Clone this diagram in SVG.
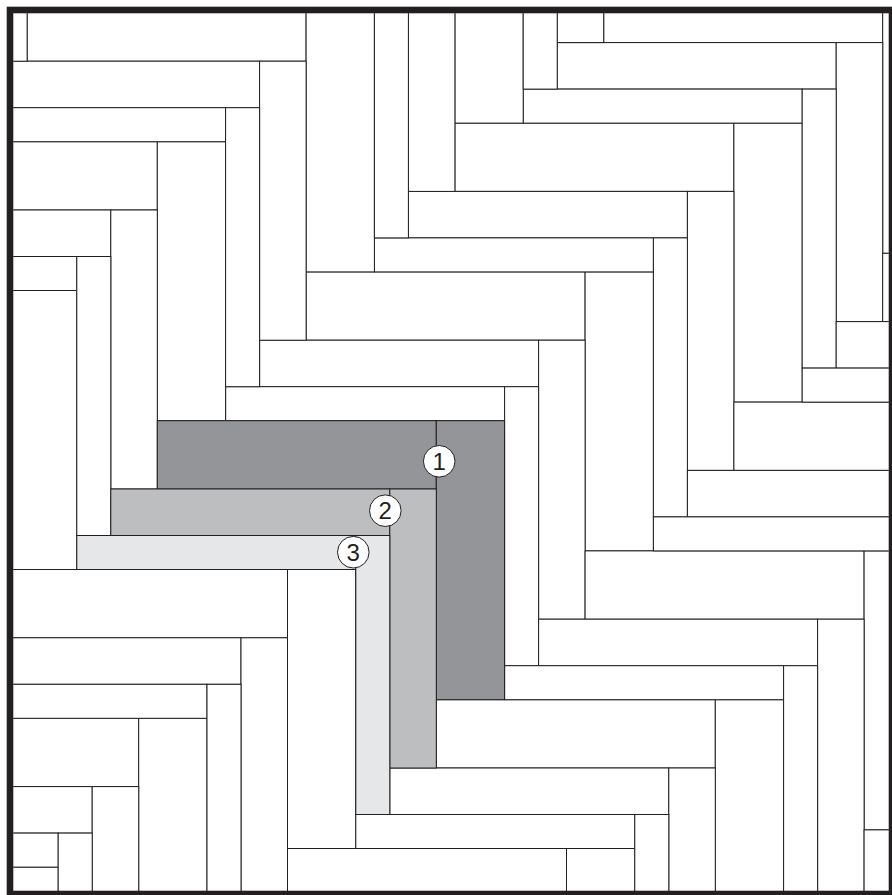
<svg xmlns="http://www.w3.org/2000/svg" xmlns:xlink="http://www.w3.org/1999/xlink" width="892" height="895" viewBox="0 0 892 895">
  <style>
    .plank { fill: #ffffff; stroke: #231f20; stroke-width: 1; }
    .p1 { fill: #939598; stroke: #231f20; stroke-width: 1; }
    .p2 { fill: #bcbec0; stroke: #231f20; stroke-width: 1; }
    .p3 { fill: #e6e7e8; stroke: #231f20; stroke-width: 1; }
    .badge { fill: #ffffff; stroke: #231f20; stroke-width: 1; }
    .num { font-family: "Liberation Sans", Arial, sans-serif; font-size: 24px; fill: #231f20; text-anchor: middle; }
    .frame { fill: none; stroke: #231f20; stroke-width: 6.6; }
  </style>
  <defs>
    <clipPath id="inner">
      <rect x="13.3" y="13.3" width="875.4" height="877.7"/>
    </clipPath>
    <g id="period">
      <rect class="plank" x="0" y="0" width="279" height="68.3"/>
      <rect class="plank" x="279" y="0" width="68.3" height="279"/>
      <rect class="plank" x="-46.5" y="68.3" width="279" height="46.5"/>
      <rect class="plank" x="232.5" y="68.3" width="46.5" height="279"/>
      <rect class="plank" x="-80.5" y="114.8" width="279" height="34"/>
      <rect class="plank" x="198.5" y="114.8" width="34" height="279"/>
    </g>
  </defs>
  <rect x="0" y="0" width="892" height="895" fill="#ffffff"/>
  <g id="floor" clip-path="url(#inner)">
    <rect x="13.3" y="13.3" width="875.4" height="877.7" fill="#ffffff"/>
    <use xlink:href="#period" transform="translate(-289.1,867.1)"/>
    <use xlink:href="#period" transform="translate(-140.3,718.3)"/>
    <use xlink:href="#period" transform="translate(8.5,569.5)"/>
    <use xlink:href="#period" transform="translate(157.3,420.7)"/>
    <use xlink:href="#period" transform="translate(306.1,271.9)"/>
    <use xlink:href="#period" transform="translate(454.9,123.1)"/>
    <use xlink:href="#period" transform="translate(603.7,-25.7)"/>
    <use xlink:href="#period" transform="translate(752.5,-174.5)"/>
    <use xlink:href="#period" transform="translate(901.3,-323.3)"/>
    <use xlink:href="#period" transform="translate(287.5,848.5)"/>
    <use xlink:href="#period" transform="translate(436.3,699.7)"/>
    <use xlink:href="#period" transform="translate(585.1,550.9)"/>
    <use xlink:href="#period" transform="translate(733.9,402.1)"/>
    <use xlink:href="#period" transform="translate(882.7,253.3)"/>
    <use xlink:href="#period" transform="translate(-270.5,290.5)"/>
    <use xlink:href="#period" transform="translate(-121.7,141.7)"/>
    <use xlink:href="#period" transform="translate(27.1,-7.1)"/>
    <use xlink:href="#period" transform="translate(175.9,-155.9)"/>
    <use xlink:href="#period" transform="translate(324.7,-304.7)"/>
    <use xlink:href="#period" transform="translate(864.1,829.9)"/>
    <use xlink:href="#period" transform="translate(-251.9,-286.1)"/>
  </g>
  <g id="plank-1">
    <rect class="p1" x="157.3" y="420.7" width="279" height="68.3"/>
    <rect class="p1" x="436.3" y="420.7" width="68.3" height="279"/>
  </g>
  <g id="plank-2">
    <rect class="p2" x="110.8" y="489" width="279" height="46.5"/>
    <rect class="p2" x="389.8" y="489" width="46.5" height="279"/>
  </g>
  <g id="plank-3">
    <rect class="p3" x="76.8" y="535.5" width="279" height="34"/>
    <rect class="p3" x="355.8" y="535.5" width="34" height="279"/>
  </g>
  <g id="label-1">
    <circle class="badge" cx="439.2" cy="461.3" r="15.8"/>
    <text class="num" x="439.2" y="469.9">1</text>
  </g>
  <g id="label-2">
    <circle class="badge" cx="385.3" cy="510.7" r="15.8"/>
    <text class="num" x="385.3" y="519.3">2</text>
  </g>
  <g id="label-3">
    <circle class="badge" cx="353.3" cy="552.2" r="15.8"/>
    <text class="num" x="353.3" y="560.8">3</text>
  </g>
  <rect class="frame" x="10" y="10" width="882" height="884"/>
</svg>
